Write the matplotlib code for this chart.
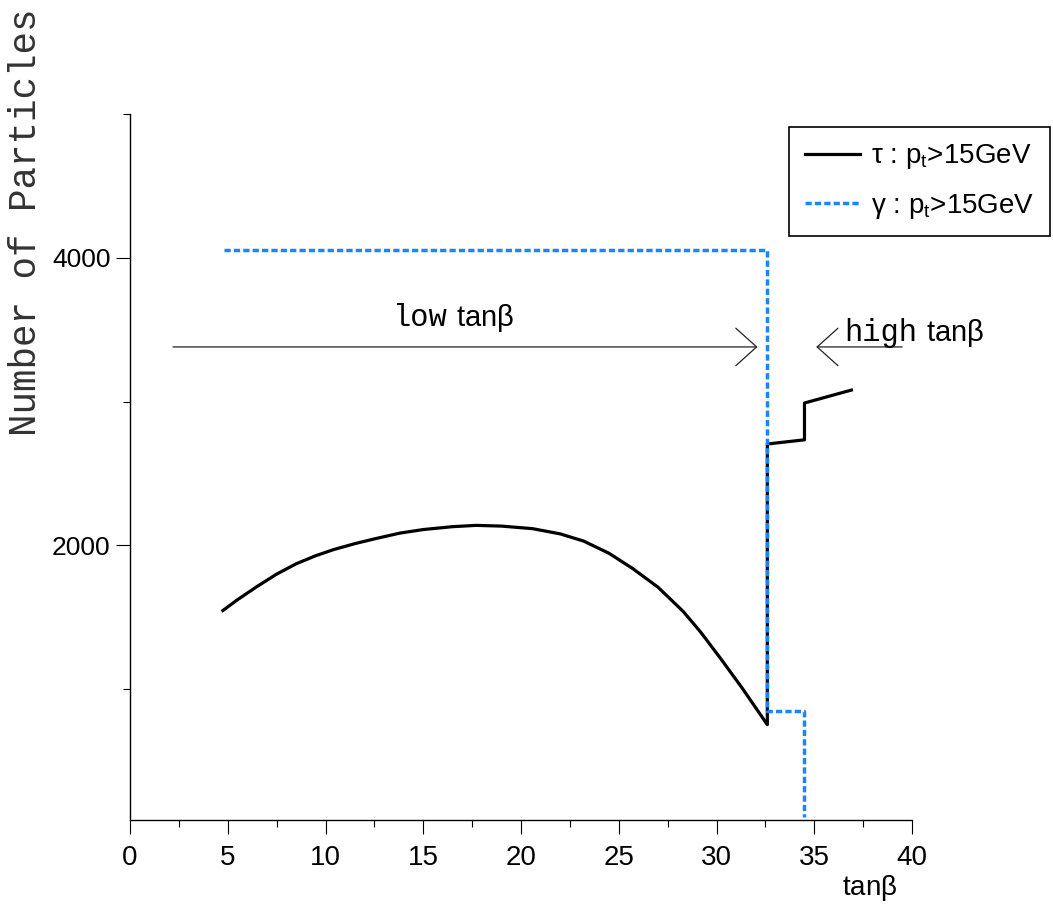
import matplotlib
matplotlib.use("Agg")
import matplotlib.pyplot as plt
from matplotlib.ticker import MultipleLocator, FixedLocator

plt.rcParams["mathtext.fontset"] = "custom"
plt.rcParams["mathtext.rm"] = "Liberation Sans"
plt.rcParams["mathtext.it"] = "Liberation Sans"
plt.rcParams["font.family"] = ["Liberation Sans", "DejaVu Sans"]

# tau: pt > 15 GeV
tau_x = [4.75, 5.5, 6.5, 7.5, 8.5, 9.5, 10.4, 11.5, 12.5, 13.8, 15.0, 16.5, 17.7,
         19.0, 20.6, 22.0, 23.2, 24.5, 25.7, 27.0, 28.3, 29.2, 30.2, 31.3, 32.6,
         32.6, 34.5, 34.5, 36.9]
tau_y = [1547, 1622, 1714, 1800, 1872, 1928, 1970, 2012, 2045, 2085, 2110, 2130, 2139,
         2134, 2116, 2080, 2030, 1945, 1840, 1710, 1540, 1395, 1215, 1010, 753,
         2705, 2734, 2990, 3080]

# gamma: pt > 15 GeV
gam_x = [4.8, 32.6, 32.6, 34.5, 34.5]
gam_y = [4056, 4056, 850, 850, 110]

xticks = [0, 5, 10, 15, 20, 25, 30, 35, 40]
yticks = [2000, 4000]
yminor = [1000, 3000, 5000]

fig = plt.figure(figsize=(10.53, 9.11), dpi=100)
ax = fig.add_axes([130 / 1053, 1 - 820 / 911, 782 / 1053, 706 / 911])

ax.plot(tau_x, tau_y, color="black", lw=2.3, solid_joinstyle="round",
        label=r"$\tau$ : p$_t$>15GeV")
ax.plot(gam_x, gam_y, color="#1a85ff", lw=2.5, linestyle=(0, (1.8, 0.9)),
        label=r"$\gamma$ : p$_t$>15GeV")

ax.set_xlim(0, 40)
ax.set_ylim(90, 5000)
ax.spines["top"].set_visible(False)
ax.spines["right"].set_visible(False)
for s in ("left", "bottom"):
    ax.spines[s].set_linewidth(1.0)

ax.set_xticks(xticks)
ax.set_xticklabels([str(t) for t in xticks], fontsize=20)
ax.xaxis.set_minor_locator(MultipleLocator(2.5))
ax.set_yticks(yticks)
ax.set_yticklabels([str(t) for t in yticks], fontsize=19)
ax.yaxis.set_minor_locator(FixedLocator(yminor))
ax.tick_params(which="major", direction="out", length=10, width=0.8)
ax.tick_params(which="minor", direction="out", length=5, width=0.8)
ax.tick_params(axis="x", which="major", pad=8)
ax.tick_params(axis="y", which="major", pad=4)

# region arrows
arrow_kw = dict(arrowstyle="->,head_length=1.0,head_width=0.9", mutation_scale=15,
                color="#222222", lw=0.9, shrinkA=0, shrinkB=0)
ax.annotate("", xy=(32.1, 3380), xytext=(2.2, 3380), arrowprops=arrow_kw)
ax.annotate("", xy=(35.1, 3380), xytext=(39.5, 3380), arrowprops=arrow_kw)

ax.text(13.4, 3526, "low", fontfamily="Liberation Mono", fontsize=22, va="baseline")
ax.text(16.7, 3526, r"tan$\beta$", fontsize=21, va="baseline")
ax.text(36.55, 3422, "high", fontfamily="Liberation Mono", fontsize=22, va="baseline")
ax.text(40.7, 3422, r"tan$\beta$", fontsize=21, va="baseline", clip_on=False)

fig.text(26 / 1053, 1 - 222 / 911, "Number of Particles", rotation=90,
         fontfamily="Liberation Mono", fontsize=27, ha="center", va="center",
         color="#333333")
fig.text(870 / 1053, 1 - 888 / 911, r"tan$\beta$", fontsize=20,
         ha="center", va="center")

leg = ax.legend(loc="upper right", bbox_to_anchor=(1050 / 1053, 1 - 127 / 911),
                bbox_transform=fig.transFigure, borderaxespad=0, fontsize=20,
                handlelength=2.0, handletextpad=0.4, labelspacing=0.75,
                borderpad=0.55, fancybox=False, framealpha=1)
leg.get_frame().set_edgecolor("black")
leg.get_frame().set_linewidth(1.2)

fig.savefig("out.png", dpi=100)
